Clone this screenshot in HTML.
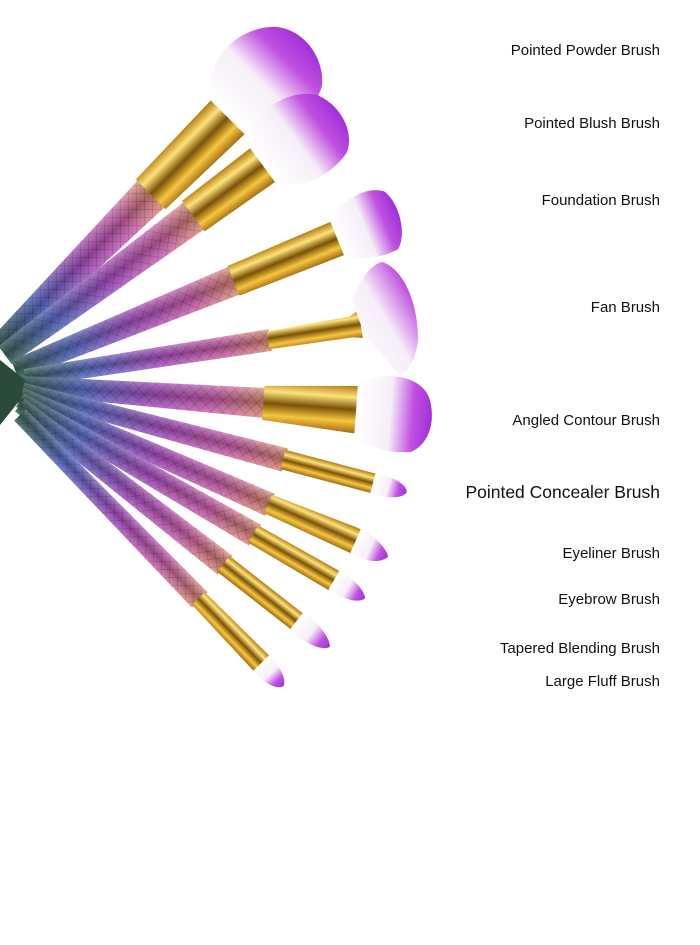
<!DOCTYPE html>
<html><head><meta charset="utf-8"><style>
html,body{margin:0;padding:0;background:#fff;width:700px;height:945px;overflow:hidden}
.l{position:absolute;right:40px;font-family:"Liberation Sans",sans-serif;font-size:15px;color:#111;white-space:nowrap}
</style></head><body>
<svg width="700" height="945" style="position:absolute;left:0;top:0">
<defs>
<linearGradient id="h" x1="0" y1="0" x2="1" y2="0">
<stop offset="0" stop-color="#3a6a5a"/><stop offset=".25" stop-color="#5a6fd0"/><stop offset=".55" stop-color="#b050c8"/><stop offset=".8" stop-color="#d060b0"/><stop offset="1" stop-color="#e08a70"/></linearGradient>
<linearGradient id="hs" x1="0" y1="0" x2="0" y2="1">
<stop offset="0" stop-color="#fff" stop-opacity=".35"/><stop offset=".5" stop-color="#000" stop-opacity=".25"/><stop offset="1" stop-color="#fff" stop-opacity=".2"/></linearGradient>
<linearGradient id="g" x1="0" y1="0" x2="0" y2="1">
<stop offset="0" stop-color="#b07a10"/><stop offset=".25" stop-color="#ffe27a"/><stop offset=".5" stop-color="#7a5208"/><stop offset=".75" stop-color="#f6c640"/><stop offset="1" stop-color="#a06a10"/></linearGradient>
<linearGradient id="b" x1="0" y1="0" x2="1" y2="0">
<stop offset="0" stop-color="#fff"/><stop offset=".45" stop-color="#f6eef8"/><stop offset=".75" stop-color="#c050e0"/><stop offset="1" stop-color="#a030d8"/></linearGradient>
<linearGradient id="bf" x1="0" y1="1" x2="1" y2="0">
<stop offset="0" stop-color="#fff"/><stop offset=".5" stop-color="#f6eef8"/><stop offset=".8" stop-color="#c050e0"/><stop offset="1" stop-color="#a030d8"/></linearGradient>
<pattern id="sc" width="8" height="8" patternUnits="userSpaceOnUse" patternTransform="rotate(45)">
<rect width="8" height="8" fill="none"/><path d="M0 0H8M0 0V8" stroke="#222" stroke-width="1.3" opacity=".35"/></pattern>
</defs>
<g>
<!-- 1 -->
<g transform="translate(0,345) rotate(-45)">
<polygon points="0,-11 215,-19 215,19 0,11" fill="url(#h)"/><polygon points="0,-11 215,-19 215,19 0,11" fill="url(#sc)"/><polygon points="0,-11 215,-19 215,19 0,11" fill="url(#hs)"/>
<polygon points="213,-21 325,-24 325,24 213,21" fill="url(#g)"/>
<path d="M322,-24 C340,-55 390,-60 420,-30 C440,-5 430,30 410,45 C380,60 340,50 322,24 Z" fill="url(#b)"/>
</g>
<!-- 2 -->
<g transform="translate(5,355) rotate(-36.4)">
<polygon points="0,-11 236,-17 236,17 0,11" fill="url(#h)"/><polygon points="0,-11 236,-17 236,17 0,11" fill="url(#sc)"/><polygon points="0,-11 236,-17 236,17 0,11" fill="url(#hs)"/>
<polygon points="234,-19 323,-21 323,21 234,19" fill="url(#g)"/>
<path d="M320,-21 C335,-48 380,-50 405,-25 C420,0 412,30 395,40 C365,50 335,42 320,21 Z" fill="url(#b)"/>
</g>
<!-- 3 -->
<g transform="translate(15,370) rotate(-22.2)">
<polygon points="0,-10 238,-15 238,15 0,10" fill="url(#h)"/><polygon points="0,-10 238,-15 238,15 0,10" fill="url(#sc)"/><polygon points="0,-10 238,-15 238,15 0,10" fill="url(#hs)"/>
<polygon points="236,-16 350,-18 350,18 236,16" fill="url(#g)"/>
<path d="M348,-18 C360,-32 395,-40 410,-25 C420,-5 412,25 400,33 C378,35 360,28 348,18 Z" fill="url(#b)"/>
</g>
<!-- 4 fan -->
<g transform="translate(25,378) rotate(-8.8)">
<polygon points="0,-9 248,-11 248,11 0,9" fill="url(#h)"/><polygon points="0,-9 248,-11 248,11 0,9" fill="url(#sc)"/><polygon points="0,-9 248,-11 248,11 0,9" fill="url(#hs)"/>
<polygon points="246,-9 330,-11 340,-16 340,12 330,10 246,9" fill="url(#g)"/>
</g>
<path d="M362,328 L352,300 C360,280 370,265 382,262 C402,268 418,300 418,340 C416,360 408,372 400,375 L365,336 Z" fill="url(#bf)"/>
<!-- 5 -->
<g transform="translate(20,385) rotate(4.2)">
<polygon points="0,-9 246,-15 246,15 0,9" fill="url(#h)"/><polygon points="0,-9 246,-15 246,15 0,9" fill="url(#sc)"/><polygon points="0,-9 246,-15 246,15 0,9" fill="url(#hs)"/>
<polygon points="244,-17 339,-24 339,24 244,17" fill="url(#g)"/>
<path d="M337,-26 C355,-40 400,-42 410,-15 C418,10 410,30 395,38 C370,42 350,36 337,26 Z" fill="url(#b)"/>
</g>
<!-- 6 -->
<g transform="translate(20,390) rotate(14.8)">
<polygon points="0,-8 274,-12 274,12 0,8" fill="url(#h)"/><polygon points="0,-8 274,-12 274,12 0,8" fill="url(#sc)"/><polygon points="0,-8 274,-12 274,12 0,8" fill="url(#hs)"/>
<polygon points="272,-10 367,-10 367,10 272,10" fill="url(#g)"/>
<path d="M365,-10 C380,-12 398,-8 400,0 C398,8 380,12 365,10 Z" fill="url(#b)"/>
</g>
<!-- 7 -->
<g transform="translate(20,395) rotate(23.7)">
<polygon points="0,-8 273,-12 273,12 0,8" fill="url(#h)"/><polygon points="0,-8 273,-12 273,12 0,8" fill="url(#sc)"/><polygon points="0,-8 273,-12 273,12 0,8" fill="url(#hs)"/>
<polygon points="271,-10 360,-14 368,-14 368,12 271,10" fill="url(#g)"/>
<path d="M366,-14 C382,-14 398,-6 402,0 C398,10 382,14 366,12 Z" fill="url(#b)"/>
</g>
<!-- 8 -->
<g transform="translate(20,400) rotate(29.9)">
<polygon points="0,-8 271,-12 271,12 0,8" fill="url(#h)"/><polygon points="0,-8 271,-12 271,12 0,8" fill="url(#sc)"/><polygon points="0,-8 271,-12 271,12 0,8" fill="url(#hs)"/>
<polygon points="269,-10 364,-11 364,11 269,10" fill="url(#g)"/>
<path d="M362,-11 C378,-12 395,-6 398,0 C395,8 378,12 362,11 Z" fill="url(#b)"/>
</g>
<!-- 9 -->
<g transform="translate(20,405) rotate(38)">
<polygon points="0,-8 260,-12 260,12 0,8" fill="url(#h)"/><polygon points="0,-8 260,-12 260,12 0,8" fill="url(#sc)"/><polygon points="0,-8 260,-12 260,12 0,8" fill="url(#hs)"/>
<polygon points="258,-10 353,-10 353,10 258,10" fill="url(#g)"/>
<path d="M351,-11 C370,-13 390,-6 393,0 C390,8 370,13 351,11 Z" fill="url(#b)"/>
</g>
<!-- 10 -->
<g transform="translate(20,415) rotate(45.8)">
<polygon points="0,-8 258,-11 258,11 0,8" fill="url(#h)"/><polygon points="0,-8 258,-11 258,11 0,8" fill="url(#sc)"/><polygon points="0,-8 258,-11 258,11 0,8" fill="url(#hs)"/>
<polygon points="256,-9 348,-11 348,11 256,9" fill="url(#g)"/>
<path d="M346,-11 C362,-12 376,-6 378,0 C376,8 362,12 346,11 Z" fill="url(#b)"/>
</g>
<polygon points="0,360 25,380 20,400 0,425" fill="#2a4a3a"/>
</g>
</svg>
<div class="l" style="top:42px">Pointed Powder Brush</div>
<div class="l" style="top:115px">Pointed Blush Brush</div>
<div class="l" style="top:192px">Foundation Brush</div>
<div class="l" style="top:299px">Fan Brush</div>
<div class="l" style="top:412px">Angled Contour Brush</div>
<div class="l" style="top:482px;font-size:17.5px">Pointed Concealer Brush</div>
<div class="l" style="top:545px">Eyeliner Brush</div>
<div class="l" style="top:591px">Eyebrow Brush</div>
<div class="l" style="top:640px">Tapered Blending Brush</div>
<div class="l" style="top:673px">Large Fluff Brush</div>
</body></html>
